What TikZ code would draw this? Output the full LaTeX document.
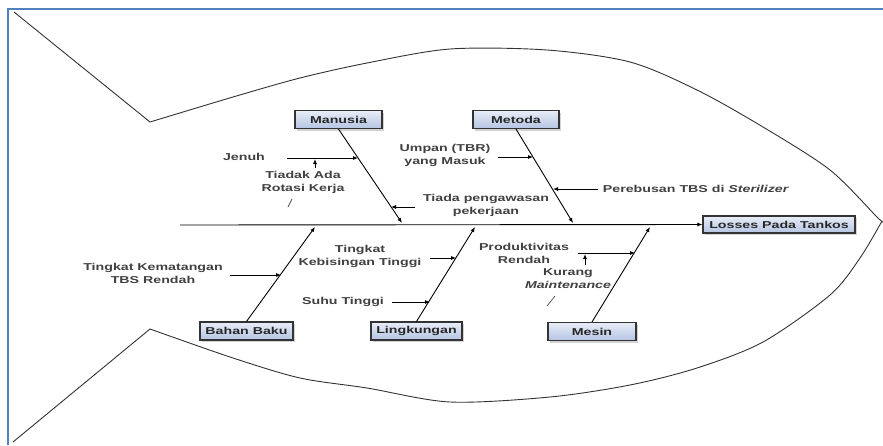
\documentclass[tikz,border=0pt]{standalone}
\usepackage{fontspec}
\newfontfamily\fishfont[FakeStretch=1.42]{Liberation Sans}
\usetikzlibrary{arrows.meta,shadows}
\definecolor{boxtop}{HTML}{E8EDF7}
\definecolor{boxbot}{HTML}{B4C4E2}
\definecolor{pageframe}{HTML}{4F81BD}

\begin{document}
\begin{tikzpicture}
  [x=1pt,y=-1pt,>={Latex[length=5pt,width=4pt]},
   cause/.style={rectangle,draw=black!80,line width=1.1pt,
                 top color=boxtop,bottom color=boxbot,
                 minimum height=18pt,inner sep=0pt,text=black!85,
                 font=\fishfont\bfseries\fontsize{10}{12}\selectfont,
                 drop shadow={shadow xshift=2pt,shadow yshift=-2pt,opacity=0.35}},
   note/.style={align=center,inner sep=0pt,text=black!75,
                font=\fishfont\bfseries\fontsize{10}{13}\selectfont},
   bone/.style={->,line width=0.9pt},
   twig/.style={->,line width=0.8pt},
   outline/.style={black!80,line width=0.9pt}]
  \useasboundingbox (0,0) rectangle (883,445);

  % page frame
  \draw[pageframe,line width=2pt] (8,445) -- (8,9) -- (883,9);

  % fish body
  \draw[outline] (14,12) -- plot[smooth] coordinates {(150,122) (233,97)
    (300,78) (367,63) (450,49) (547,50) (630,62) (697,90) (763,127)
    (830,170) (877,217) (882,221)};
  \draw[outline] plot[smooth] coordinates {(882,221) (860,258) (830,295)
    (763,342) (697,368) (630,385) (550,397) (450,402) (367,388) (300,378)
    (233,358) (150,329)} -- (13,442);

  % effect and main causes
  \node[cause,minimum width=152pt,minimum height=17pt] (losses) at (779,224.5) {Losses Pada Tankos};
  \node[cause,minimum width=87pt] (manusia)    at (338.5,119.5) {Manusia};
  \node[cause,minimum width=86pt] (metoda)     at (516,119.5)   {Metoda};
  \node[cause,minimum width=93pt] (bahan)      at (246.5,331)   {Bahan Baku};
  \node[cause,minimum width=91pt] (lingkungan) at (416.5,331)   {Lingkungan};
  \node[cause,minimum width=88pt] (mesin)      at (592,331.5)   {Mesin};

  \coordinate (tail) at (180,225);
  \coordinate (manusiaEnd)    at (402,223);
  \coordinate (metodaEnd)     at (573,223);
  \coordinate (bahanEnd)      at (315,227);
  \coordinate (lingkunganEnd) at (475,227);
  \coordinate (mesinEnd)      at (650,227);

  \draw[bone] (tail) -- (losses.west);
  \draw[bone] (manusia.south)    -- (manusiaEnd);
  \draw[bone] (metoda.south)     -- (metodaEnd);
  \draw[bone] (bahan.north)      -- (bahanEnd);
  \draw[bone] (lingkungan.north) -- (lingkunganEnd);
  \draw[bone] (mesin.north)      -- (mesinEnd);

  % sub causes
  \node[note] (jenuh)      at (244,157)   {Jenuh};
  \node[note] (rotasi)     at (303,182)   {Tiadak Ada\\Rotasi Kerja};
  \node[note] (pengawasan) at (486,205)   {Tiada pengawasan\\pekerjaan};
  \node[note] (umpan)      at (445,155)   {Umpan (TBR)\\yang Masuk};
  \node[note] (perebusan)  at (696,189)   {Perebusan TBS di \textit{Sterilizer}};
  \node[note] (kematangan) at (153,273.5) {Tingkat Kematangan\\TBS Rendah};
  \node[note] (kebisingan) at (360,256.5) {Tingkat\\Kebisingan Tinggi};
  \node[note] (suhu)       at (343,302)   {Suhu Tinggi};
  \node[note] (produktif)  at (524,253.5) {Produktivitas\\Rendah};
  \node[note] (kurang)     at (568,279)   {Kurang\\\textit{Maintenance}};

  \coordinate (jenuhS) at (287,158);      \coordinate (jenuhE) at (358,158);
  \coordinate (rotasiS) at (315,168);     \coordinate (rotasiE) at (315,159);
  \coordinate (pengawasanS) at (415,207); \coordinate (pengawasanE) at (391,207);
  \coordinate (umpanS) at (498,157);      \coordinate (umpanE) at (533,157);
  \coordinate (perebusanS) at (598,189);  \coordinate (perebusanE) at (553,189);
  \coordinate (kematanganS) at (230,275); \coordinate (kematanganE) at (281,275);
  \coordinate (kebisinganS) at (430,258); \coordinate (kebisinganE) at (456,258);
  \coordinate (suhuS) at (392,302);       \coordinate (suhuE) at (430,302);
  \coordinate (produktifS) at (578,253);  \coordinate (produktifE) at (635,253);
  \coordinate (kurangS) at (585,265);     \coordinate (kurangE) at (585,254);

  \foreach \c in {jenuh,rotasi,pengawasan,umpan,perebusan,kematangan,
                  kebisingan,suhu,produktif,kurang}
    \draw[twig] (\c S) -- (\c E);

  % stray ticks
  \draw[black!70,line width=0.7pt] (288,207) -- (292,199);
  \draw[black!70,line width=0.7pt] (547,306) -- (555,296);
\end{tikzpicture}
\end{document}
